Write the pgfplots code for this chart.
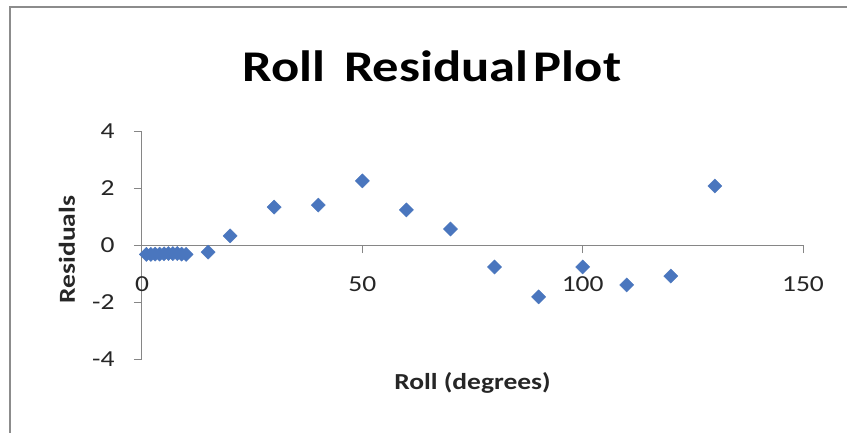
\documentclass[border=0pt]{standalone}
\usepackage{fontspec}
\setmainfont{Carlito}[FakeStretch=1.2]
\usepackage{pgfplots}
\pgfplotsset{compat=1.18}
\definecolor{markblue}{HTML}{4A76BE}
\definecolor{axisgray}{HTML}{868686}
\definecolor{framegray}{HTML}{8C8C8C}
\begin{document}
\begin{tikzpicture}
\useasboundingbox (-142bp,-74bp) rectangle (705bp,359bp);
\fill[white] (-142bp,-74bp) rectangle (705bp,359bp);
\draw[framegray, line width=1.5bp] (-132bp,-74bp) -- (-132bp,352bp) -- (705bp,352bp);
\begin{axis}[
  at={(0,0)}, anchor=south west,
  scale only axis, width=661bp, height=228bp,
  xmin=0, xmax=150, ymin=-4, ymax=4,
  axis x line=middle, axis y line=left,
  hide obscured x ticks=false, hide obscured y ticks=false,
  axis line style={-, draw=axisgray, line width=1bp},
  xtick={0,50,100,150}, xticklabels={0,50,100,150},
  ytick={-4,-2,0,2,4}, yticklabels={-4,-2,0,2,4},
  tick align=outside, major tick length=8bp,
  tick style={draw=axisgray, line width=1bp},
  ticklabel style={font=\fontsize{23}{23}\selectfont, text=black!85},
  xticklabel style={anchor=north, yshift=-20bp},
  yticklabel style={anchor=east, xshift=-16bp},
  clip=false,
  xlabel={\textbf{Roll (degrees)}},
  ylabel={\textbf{Residuals}},
  label style={font=\fontsize{23}{23}\selectfont, text=black!85},
  xlabel style={at={(axis description cs:0.5,0)}, anchor=center, yshift=-24bp},
  ylabel style={at={(axis description cs:-0.1135,0.48)}, anchor=center},
]
\addplot[only marks, mark=square*, mark size=5bp, mark options={rotate=45, fill=markblue, draw=markblue}]
coordinates {
(1,-0.33) (2,-0.33) (3,-0.32) (4,-0.32) (5,-0.31) (6,-0.30) (7,-0.30) (8,-0.30) (9,-0.32) (10,-0.33)
(15,-0.25) (20,0.32) (30,1.33) (40,1.40) (50,2.25) (60,1.23) (70,0.56) (80,-0.77) (90,-1.82)
(100,-0.77) (110,-1.40) (120,-1.09) (130,2.07)
};
\end{axis}
\node[font=\fontsize{44}{44}\selectfont\bfseries] at (290bp,293bp) {Roll\hspace{0.42em}Residual\hspace{0.12em}Plot};
\end{tikzpicture}
\end{document}
